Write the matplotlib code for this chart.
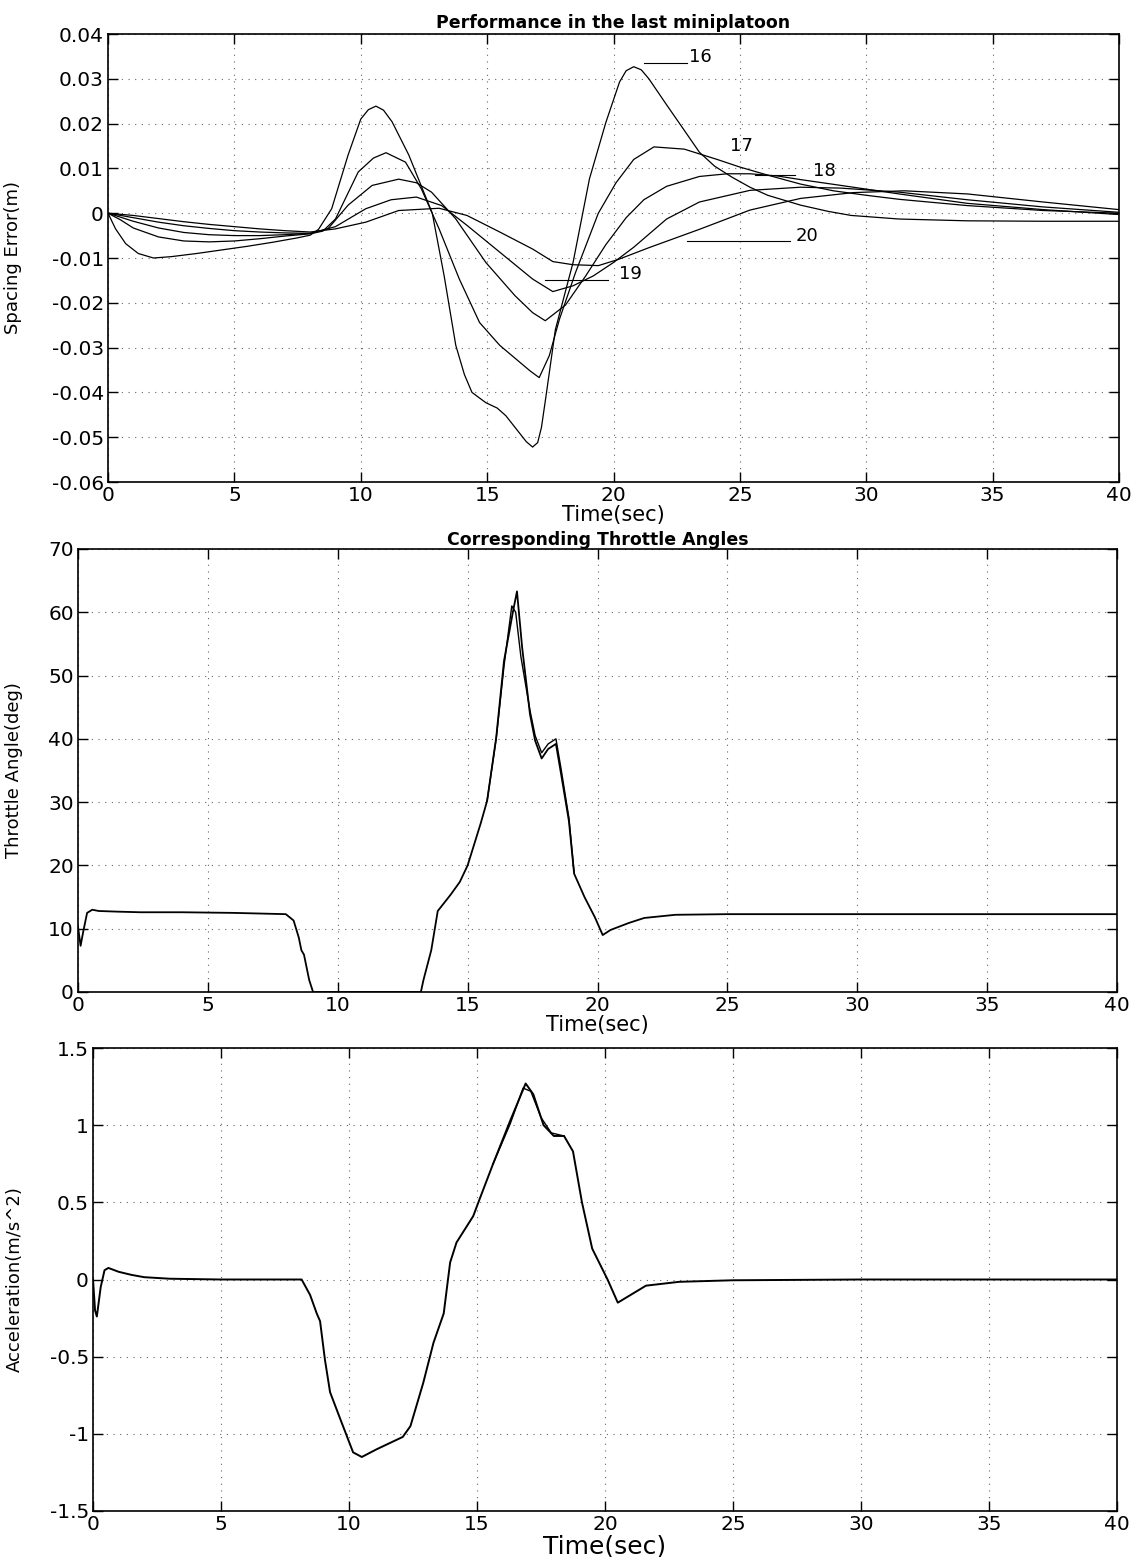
import matplotlib.pyplot as plt

# ---- spacing error, cars 16..20 (m) ----
t16 = [0, 0.3, 0.7, 1.2, 1.8, 2.5, 3.5, 4.5, 5.5, 6.5, 7.5, 8.0, 8.33, 8.85, 9.5, 10.0, 10.3, 10.6, 10.9,
       11.24, 11.9, 12.4, 12.83, 13.3, 13.76, 14.1, 14.4, 14.95, 15.4, 15.74, 16.27, 16.55, 16.8, 17.0,
       17.15, 17.33, 17.7, 18.4, 19.05, 19.7, 20.24, 20.5, 20.8, 21.1, 21.4, 22.1, 22.8, 23.4, 24.0,
       24.7, 25.4, 26.1, 27.4, 28.5, 29.4, 31.3, 34, 37, 40]
e16 = [0, -0.0035, -0.0068, -0.0090, -0.0100, -0.0097, -0.0090, -0.0082, -0.0074, -0.0065, -0.0055,
       -0.0049, -0.0036, 0.0010, 0.0130, 0.0210, 0.0231, 0.0239, 0.0230, 0.0204, 0.0130, 0.0060,
       0.0000, -0.0140, -0.0295, -0.0360, -0.0400, -0.0423, -0.0435, -0.0452, -0.0490, -0.0510,
       -0.0522, -0.0512, -0.0478, -0.0408, -0.0260, -0.0110, 0.0077, 0.0203, 0.0293, 0.0318, 0.0327,
       0.0320, 0.0300, 0.0242, 0.0185, 0.0136, 0.0105, 0.0080, 0.0058, 0.0040, 0.0018, 0.0004,
       -0.0005, -0.0013, -0.0017, -0.0018, -0.0018]

t17 = [0, 0.5, 1, 2, 3, 4, 5, 6, 7, 8, 8.5, 9.0, 9.9, 10.5, 11.0, 11.77, 12.4, 13.1, 13.9, 14.7, 15.5,
       16.3, 16.7, 17.06, 17.46, 17.86, 18.5, 19.4, 20.1, 20.8, 21.6, 22.8, 24.1, 25.0, 26.1, 27.4, 28.7,
       30, 31.3, 34, 37, 40]
e17 = [0, -0.0015, -0.0033, -0.0053, -0.0062, -0.0064, -0.0062, -0.0057, -0.0051, -0.0046, -0.0040,
       -0.0013, 0.0092, 0.0123, 0.0135, 0.0114, 0.0054, -0.0035, -0.0147, -0.0244, -0.0295, -0.0333,
       -0.0352, -0.0367, -0.0318, -0.0237, -0.0132, 0.0000, 0.0068, 0.0120, 0.0148, 0.0143, 0.0120,
       0.0103, 0.0085, 0.0065, 0.0050, 0.0040, 0.0031, 0.0017, 0.0006, 0.0000]

t18 = [0, 1, 2, 3, 4, 5, 6, 7, 8, 8.7, 9.5, 10.45, 11.5, 12.2, 12.8, 13.75, 14.95, 16.1, 16.8, 17.3,
       18.1, 18.9, 19.7, 20.5, 21.2, 22.1, 23.4, 24.5, 25.4, 26.5, 27.4, 29, 31.3, 34, 37, 40]
e18 = [0, -0.0018, -0.0033, -0.0043, -0.0048, -0.0050, -0.0050, -0.0048, -0.0045, -0.0035, 0.0018,
       0.0062, 0.0076, 0.0068, 0.0047, -0.0012, -0.0110, -0.0184, -0.0222, -0.0240, -0.0205, -0.0140,
       -0.0070, -0.0010, 0.0030, 0.0060, 0.0082, 0.0088, 0.0088, 0.0083, 0.0075, 0.0062, 0.0043,
       0.0022, 0.0008, -0.0003]

t19 = [0, 1, 2, 3, 4, 5, 6, 7, 8, 9, 10.2, 11.2, 12.2, 13.2, 14.2, 15.5, 16.8, 17.6, 18.4, 19.2, 20.0,
       20.8, 22.1, 23.4, 25.4, 27.4, 29, 31.3, 34, 37, 40]
e19 = [0, -0.0010, -0.0020, -0.0028, -0.0034, -0.0039, -0.0042, -0.0044, -0.0045, -0.0030, 0.0010,
       0.0030, 0.0036, 0.0017, -0.0027, -0.0087, -0.0147, -0.0175, -0.0162, -0.0140, -0.0110, -0.0076,
       -0.0013, 0.0025, 0.0051, 0.0058, 0.0056, 0.0047, 0.0030, 0.0014, 0.0002]

t20 = [0, 1, 2, 3, 4, 5, 6, 7, 8, 9, 10.2, 11.5, 13.1, 14.2, 15.5, 16.8, 17.6, 18.4, 19.4, 20.2, 21.4,
       23.4, 25.4, 27.4, 29.5, 31.5, 34, 37, 40]
e20 = [0, -0.0005, -0.0012, -0.0019, -0.0025, -0.0030, -0.0035, -0.0039, -0.0042, -0.0035, -0.0020,
       0.0006, 0.0011, -0.0005, -0.0042, -0.0080, -0.0108, -0.0115, -0.0117, -0.0103, -0.0077, -0.0036,
       0.0007, 0.0033, 0.0046, 0.0050, 0.0043, 0.0025, 0.0008]

# curve labels: text, text position, leader line (t0, t1, y)
car_labels = ["16", "17", "18", "19", "20"]
label_xy = [(23.0, 0.0349), (24.6, 0.0150), (27.9, 0.0095), (20.2, -0.0135), (27.2, -0.0052)]
leader = [(21.2, 22.9, 0.0336), None, (25.6, 27.2, 0.0085), (17.3, 19.8, -0.0148), (22.9, 27.0, -0.0063)]

# ---- throttle angle (deg) ----
t_thr = [0, 0.1, 0.2, 0.35, 0.55, 0.8, 1.5, 2.4, 4, 6, 8.0, 8.3, 8.5, 8.6, 8.7, 8.9, 9.05, 13.2, 13.3,
         13.6, 13.85, 14.35, 14.7, 15.0, 15.5, 15.75, 16.1, 16.4, 16.75, 16.9, 17.1, 17.4, 17.6, 17.85,
         18.1, 18.4, 18.6, 18.9, 19.1, 19.5, 19.9, 20.2, 20.5, 21.2, 21.8, 23, 25, 28, 32, 36, 40]
thr = [10.3, 7.3, 9.5, 12.5, 13.0, 12.8, 12.7, 12.6, 12.6, 12.5, 12.3, 11.3, 8.6, 6.6, 5.9, 1.9, 0, 0,
       1.9, 6.6, 12.8, 15.4, 17.4, 20, 26.6, 30.2, 40.2, 52.3, 60.2, 63.3, 54.4, 43.9, 39.7, 36.9, 38.4,
       39.2, 34.4, 27.0, 18.7, 15.0, 11.8, 9.0, 9.8, 10.9, 11.7, 12.2, 12.3, 12.3, 12.3, 12.3, 12.3]
t_thr2 = [15.75, 16.1, 16.4, 16.7, 16.85, 17.05, 17.4, 17.6, 17.85, 18.1, 18.4, 18.6, 18.9, 19.1]
thr2 = [30.2, 40.0, 51.5, 61.0, 60.0, 53.0, 44.5, 40.5, 37.8, 39.2, 40.0, 35.2, 27.5, 18.9]

# ---- acceleration (m/s^2) ----
t_acc = [0, 0.08, 0.15, 0.3, 0.45, 0.6, 1.0, 1.5, 2.0, 3.0, 5, 8.15, 8.48, 8.74, 8.87, 9.06, 9.26, 9.65,
         10.16, 10.5, 11.08, 12.1, 12.4, 12.9, 13.3, 13.7, 13.95, 14.2, 14.85, 15.1, 15.63, 16.3, 16.9,
         17.2, 17.6, 18.0, 18.4, 18.75, 19.1, 19.5, 20.1, 20.5, 21.0, 21.6, 22.9, 25, 30, 40]
acc = [0, -0.20, -0.24, -0.05, 0.06, 0.075, 0.05, 0.03, 0.015, 0.005, 0, 0, -0.10, -0.22, -0.27, -0.52,
       -0.73, -0.90, -1.12, -1.15, -1.10, -1.02, -0.95, -0.67, -0.41, -0.22, 0.11, 0.24, 0.41, 0.52,
       0.75, 1.03, 1.27, 1.20, 1.00, 0.93, 0.93, 0.83, 0.50, 0.20, 0.00, -0.15, -0.10, -0.04, -0.015,
       -0.005, 0, 0]
t_acc2 = [15.63, 16.3, 16.8, 17.1, 17.5, 17.9, 18.4]
acc2 = [0.75, 1.01, 1.24, 1.22, 1.05, 0.95, 0.93]

xt = [0, 5, 10, 15, 20, 25, 30, 35, 40]
xtl = ["0", "5", "10", "15", "20", "25", "30", "35", "40"]
yt1 = [0.04, 0.03, 0.02, 0.01, 0, -0.01, -0.02, -0.03, -0.04, -0.05, -0.06]
yt1l = ["0.04", "0.03", "0.02", "0.01", "0", "-0.01", "-0.02", "-0.03", "-0.04", "-0.05", "-0.06"]
yt2 = [0, 10, 20, 30, 40, 50, 60, 70]
yt3 = [-1.5, -1, -0.5, 0, 0.5, 1, 1.5]
yt3l = ["-1.5", "-1", "-0.5", "0", "0.5", "1", "1.5"]

narrow = ['Liberation Sans Narrow', 'DejaVu Sans']


def style(ax):
    ax.set_xlim(0, 40)
    ax.set_xticks(xt)
    ax.set_xticklabels(xtl)
    ax.grid(True, linestyle=(0, (1, 5)), color='0.4', linewidth=0.8)
    ax.tick_params(direction='in', length=7, width=1, top=True, right=True,
                   labelsize=14.5, pad=3)
    for s in ax.spines.values():
        s.set_linewidth(1.2)


fig = plt.figure(figsize=(11.39, 15.57), dpi=100)
W, H = 1139, 1557

ax1 = fig.add_axes([108 / W, 1 - 482 / H, (1119 - 108) / W, (482 - 34) / H])
ax2 = fig.add_axes([78 / W, 1 - 992 / H, (1117 - 78) / W, (992 - 549) / H])
ax3 = fig.add_axes([93 / W, 1 - 1511 / H, (1117 - 93) / W, (1511 - 1048) / H])

# panel 1
for t, e in [(t16, e16), (t17, e17), (t18, e18), (t19, e19), (t20, e20)]:
    ax1.plot(t, e, color='k', lw=0.9)
for lab, (lx, ly), ld in zip(car_labels, label_xy, leader):
    ax1.text(lx, ly, lab, fontsize=13, va='center', ha='left')
    if ld is not None:
        ax1.plot([ld[0], ld[1]], [ld[2], ld[2]], color='k', lw=0.8)
style(ax1)
ax1.set_ylim(-0.06, 0.04)
ax1.set_yticks(yt1)
ax1.set_yticklabels(yt1l)
ax1.set_title("Performance in the last miniplatoon", fontsize=12.5, fontweight='bold', pad=4)
ax1.set_ylabel("Spacing Error(m)", fontsize=13, family=narrow)
ax1.yaxis.set_label_coords(-0.085, 0.5)
ax1.set_xlabel("Time(sec)", fontsize=15, labelpad=0)

# panel 2
ax2.plot(t_thr, thr, color='k', lw=1.3)
ax2.plot(t_thr2, thr2, color='k', lw=1.0)
style(ax2)
ax2.set_ylim(0, 70)
ax2.set_yticks(yt2)
ax2.set_title("Corresponding Throttle Angles", fontsize=12.5, fontweight='bold', pad=3)
ax2.set_ylabel("Throttle Angle(deg)", fontsize=13, family=narrow)
ax2.yaxis.set_label_coords(-0.053, 0.5)
ax2.set_xlabel("Time(sec)", fontsize=15, labelpad=0)

# panel 3
ax3.plot(t_acc, acc, color='k', lw=1.4)
ax3.plot(t_acc2, acc2, color='k', lw=1.0)
style(ax3)
ax3.set_ylim(-1.5, 1.5)
ax3.set_yticks(yt3)
ax3.set_yticklabels(yt3l)
ax3.set_ylabel("Acceleration(m/s^2)", fontsize=13, family=narrow)
ax3.yaxis.set_label_coords(-0.068, 0.5)
ax3.set_xlabel("Time(sec)", fontsize=18, labelpad=0)

fig.savefig("out.png", dpi=100)
